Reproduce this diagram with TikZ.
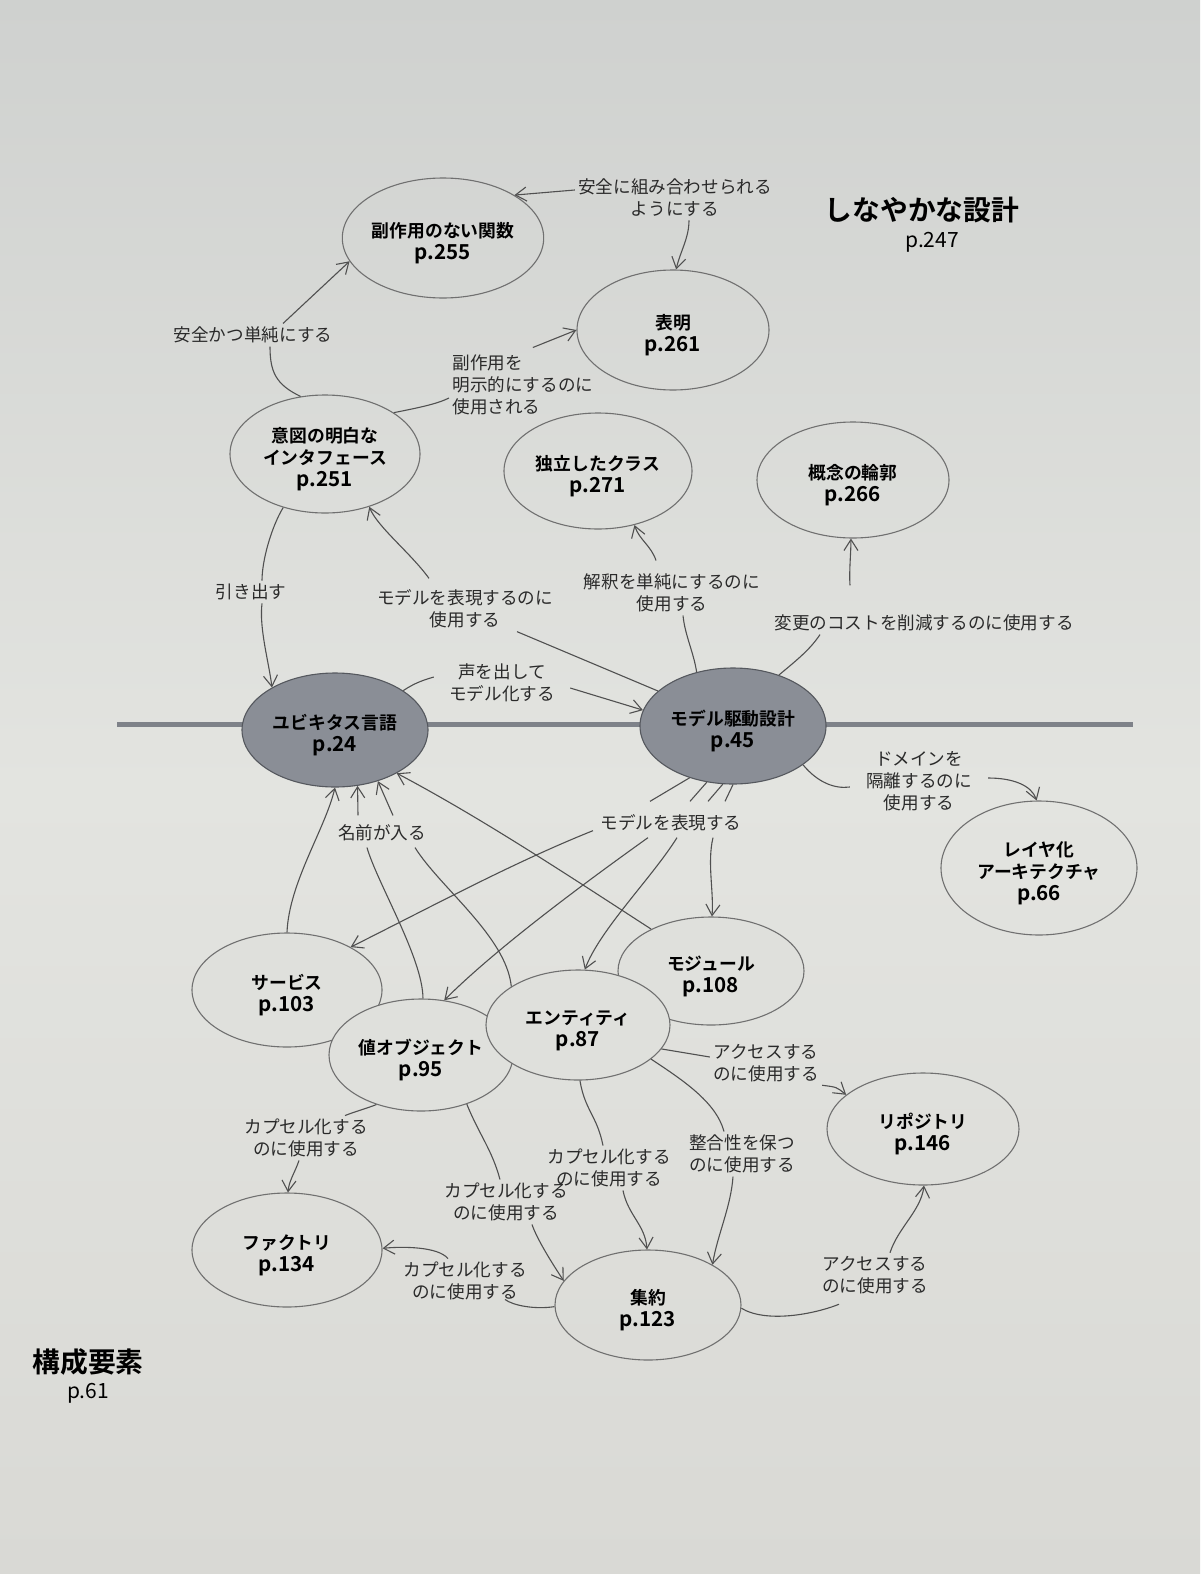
\documentclass[tikz,border=0pt]{standalone}
\usepackage{fontspec}
\setmainfont{Noto Sans CJK JP}[BoldFont={Noto Sans CJK JP Bold}]
\usetikzlibrary{arrows.meta,shapes.geometric}
\definecolor{bgmid}{HTML}{E3E4E0}
\definecolor{bgtop}{HTML}{CFD1CF}
\definecolor{bgbot}{HTML}{D9D9D5}
\definecolor{bgfill}{HTML}{DFE0DC}
\definecolor{ellc}{HTML}{707070}
\definecolor{darkfill}{HTML}{8A8E96}
\definecolor{darkline}{HTML}{55585E}
\definecolor{barc}{HTML}{7E8289}
\definecolor{linec}{HTML}{505050}
\definecolor{txtc}{HTML}{2A2A2A}
\newcommand\lblfont{\fontsize{8.8}{11}\selectfont}
\newcommand\ttlfont{\fontsize{8.9}{11}\selectfont\bfseries}
\newcommand\pgnum{\fontsize{10.3}{11}\selectfont\bfseries}
\newcommand\tpstrut{\rule{0pt}{12.5pt}}
\begin{document}
\begin{tikzpicture}[x=0.5pt,y=-0.5pt,
 ell/.style 2 args={ellipse, draw=ellc, line width=0.55pt, inner sep=0pt, minimum width=#1pt, minimum height=#2pt, align=center, font=\ttlfont, text=black},
 dark/.style={fill=darkfill, draw=darkline},
 lbl/.style={font=\lblfont, align=center, inner sep=1.5pt, text=txtc},
 con/.style={draw=linec, line width=0.55pt},
 arr/.style={con, -{Straight Barb[length=5.5pt,width=7pt]}}]
\shade[top color=bgtop, bottom color=bgbot, middle color=bgmid] (0,0) rectangle (1200,1574);
\useasboundingbox (0,0) rectangle (1200,1574);

% horizontal bar
\coordinate (barL) at (117,724);
\coordinate (barR) at (1133,724);
\draw[barc, line width=2.5pt] (barL) -- (barR);

% ellipses
\node[ell={96}{60}] (fn) at (443,238) {\tpstrut 副作用のない関数\\{\pgnum p.255}};
\node[ell={96}{60}] (asrt) at (673,330) {\tpstrut 表明\\{\pgnum p.261}};
\node[ell={95}{59}] (intf) at (325,454) {\tpstrut 意図の明白な\\インタフェース\\{\pgnum p.251}};
\node[ell={94}{58}] (cls) at (598,471) {\tpstrut 独立したクラス\\{\pgnum p.271}};
\node[ell={96}{58}] (cont) at (853,480) {\tpstrut 概念の輪郭\\{\pgnum p.266}};
\node[ell={93}{57},dark] (ul) at (335,730) {\tpstrut ユビキタス言語\\{\pgnum p.24}};
\node[ell={93}{58},dark] (mdd) at (733,726) {\tpstrut モデル駆動設計\\{\pgnum p.45}};
\node[ell={98}{67}] (layer) at (1039,868) {\tpstrut レイヤ化\\アーキテクチャ\\{\pgnum p.66}};
\node[ell={95}{57},fill=bgfill] (svc) at (287,990) {\tpstrut サービス\\{\pgnum p.103}};
\node[ell={93}{54},fill=bgfill] (mod) at (711,971) {\tpstrut モジュール\\{\pgnum p.108}};
\node[ell={92}{56},fill=bgfill] (vo) at (421,1055) {\tpstrut 値オブジェクト\\{\pgnum p.95}};
\node[ell={92}{55},fill=bgfill] (ent) at (578,1025) {\tpstrut エンティティ\\{\pgnum p.87}};
\node[ell={96}{56}] (repo) at (923,1129) {\tpstrut リポジトリ\\{\pgnum p.146}};
\node[ell={95}{57}] (fac) at (287,1250) {\tpstrut ファクトリ\\{\pgnum p.134}};
\node[ell={93}{55}] (agg) at (648,1305) {\tpstrut 集約\\{\pgnum p.123}};

% section titles
\node[font=\fontsize{13.9}{16}\selectfont\bfseries] (t1) at (922,210) {しなやかな設計};
\node[font=\fontsize{10.5}{12}\selectfont] (t1p) at (932,242) {p.247};
\node[font=\fontsize{13.9}{16}\selectfont\bfseries] (t2) at (88,1362) {構成要素};
\node[font=\fontsize{10.5}{12}\selectfont] (t2p) at (88,1393) {p.61};

% labels
\node[lbl] (lSafeCompose) at (675,198) {安全に組み合わせられる\\ようにする};
\node[lbl] (lSafeSimple) at (253,335) {安全かつ単純にする};
\node[lbl, align=left, anchor=west] (lSideEff) at (449,385) {副作用を\\明示的にするのに\\使用される};
\node[lbl] (lDraw) at (251,592) {引き出す};
\node[lbl] (lExpr1) at (465,609) {モデルを表現するのに\\使用する};
\node[lbl] (lInterp) at (672,593) {解釈を単純にするのに\\使用する};
\node[lbl] (lCost) at (924,623) {変更のコストを削減するのに使用する};
\node[lbl] (lVoice) at (502,683) {声を出して\\モデル化する};
\node[lbl] (lIsolate) at (919,781) {ドメインを\\隔離するのに\\使用する};
\node[lbl] (lExpr2) at (671,823) {モデルを表現する};
\node[lbl] (lName) at (382,833) {名前が入る};
\node[lbl] (lEnc1) at (306,1138) {カプセル化する\\のに使用する};
\node[lbl] (lEnc2) at (506,1202) {カプセル化する\\のに使用する};
\node[lbl] (lEnc3) at (609,1168) {カプセル化する\\のに使用する};
\node[lbl] (lConsist) at (742,1154) {整合性を保つ\\のに使用する};
\node[lbl] (lAccess1) at (766,1063) {アクセスする\\のに使用する};
\node[lbl] (lEnc4) at (465,1281) {カプセル化する\\のに使用する};
\node[lbl] (lAccess2) at (875,1275) {アクセスする\\のに使用する};

% connectors - supple design
\draw[arr] ([yshift=4pt]lSafeCompose.west) -- (fn.31);
\draw[arr] ([xshift=7pt]lSafeCompose.south) .. controls +(0,18) and +(4,-18) .. (asrt.87);
\draw[con] (intf.113) .. controls +(-25,-12) and +(0,25) .. ([xshift=8.5pt]lSafeSimple.south);
\draw[arr] ([xshift=15pt]lSafeSimple.north) -- (fn.194);
\draw[con] (intf.31) .. controls +(25,-5) and +(-12,6) .. ([yshift=-6.5pt]lSideEff.west);
\draw[arr] ([xshift=5pt,yshift=2pt]lSideEff.north) -- (asrt.180);
\draw[con] (intf.232) .. controls +(-12,20) and +(0,-20) .. ([xshift=5.5pt]lDraw.north);
\draw[arr] ([xshift=5.5pt]lDraw.south) .. controls +(-3,25) and +(-3,-25) .. (ul.146);
\draw[con] (mdd.155) -- ([xshift=26pt]lExpr1.south);
\draw[arr] ([xshift=-18pt,yshift=4pt]lExpr1.north) .. controls +(-18,-25) and +(8,20) .. (intf.310);
\draw[con] (mdd.124) .. controls +(-3,-20) and +(2,20) .. ([xshift=5.5pt]lInterp.south);
\draw[arr] ([xshift=-8pt,yshift=5pt]lInterp.north) .. controls +(-5,-15) and +(5,15) .. (cls.304);
\draw[con] (mdd.48) .. controls +(18,-15) and +(-10,15) .. ([xshift=-52pt]lCost.south);
\draw[arr] ([xshift=-37pt,yshift=13pt]lCost.north) .. controls +(-1,-15) and +(0,15) .. (cont.268);
\draw[con] (ul.30) .. controls +(12,-8) and +(-10,3) .. ([xshift=-6pt,yshift=3pt]lVoice.west);
\draw[arr] ([xshift=6pt,yshift=-2.5pt]lVoice.east) -- (mdd.170);
\draw[con] (mdd.331) .. controls +(15,18) and +(-15,2) .. ([xshift=-6.5pt,yshift=-3pt]lIsolate.west);
\draw[arr] ([xshift=6.5pt,yshift=1.5pt]lIsolate.east) .. controls +(25,0) and +(-5,-15) .. (layer.92);

% model-driven design -> building blocks
\draw[con] (mdd.230) -- ([xshift=-10.5pt,yshift=5pt]lExpr2.north);
\draw[con] (mdd.245) -- ([xshift=9.5pt,yshift=5pt]lExpr2.north);
\draw[con] (mdd.260) -- ([xshift=18.5pt,yshift=5pt]lExpr2.north);
\draw[con] (mdd.270) -- ([xshift=27pt,yshift=5pt]lExpr2.north);
\draw[arr] ([xshift=-39pt,yshift=2pt]lExpr2.south) .. controls +(-80,32) and +(80,-40) .. (svc.34);
\draw[arr] ([xshift=-11.5pt,yshift=-1.5pt]lExpr2.south) .. controls +(-70,50) and +(50,-50) .. (vo.67);
\draw[arr] ([xshift=3pt,yshift=-1.5pt]lExpr2.south) .. controls +(-25,40) and +(15,-40) .. (ent.83);
\draw[arr] ([xshift=21pt,yshift=-1.5pt]lExpr2.south) .. controls +(-6,25) and +(2,-25) .. (mod.89);

% names enter ubiquitous language
\draw[arr] (svc.90) .. controls +(2,-50) and +(-10,42) .. (ul.270);
\draw[con] (vo.88) .. controls +(0,-40) and +(10,35) .. ([xshift=-7.5pt,yshift=-1.5pt]lName.south);
\draw[arr] ([xshift=-12pt,yshift=3pt]lName.north) -- (ul.292);
\draw[con] (ent.150) .. controls +(-5,-50) and +(25,40) .. ([xshift=16.5pt,yshift=-1.5pt]lName.south);
\draw[arr] ([xshift=5.5pt,yshift=3pt]lName.north) -- (ul.310);
\draw[arr] (mod.145) .. controls +(-85,-55) and +(85,45) .. (ul.325);

% building blocks
\draw[con] (vo.228) .. controls +(-10,4) and +(10,-4) .. ([xshift=19.5pt]lEnc1.north);
\draw[arr] ([xshift=-3.5pt]lEnc1.south) .. controls +(-4,12) and +(1,-12) .. (fac.89);
\draw[con] (vo.313) .. controls +(12,30) and +(-8,-30) .. ([xshift=-3pt]lEnc2.north);
\draw[arr] ([xshift=13pt]lEnc2.south) .. controls +(5,15) and +(-10,-15) .. (agg.164);
\draw[con] (ent.272) .. controls +(5,30) and +(-6,-30) .. ([xshift=-3pt]lEnc3.north);
\draw[arr] ([xshift=7pt]lEnc3.south) .. controls +(5,25) and +(-2,-25) .. (agg.91);
\draw[con] (ent.335) .. controls +(30,20) and +(-8,-30) .. ([xshift=-9pt]lConsist.north);
\draw[arr] ([xshift=-4.5pt]lConsist.south) .. controls +(-2,30) and +(5,-30) .. (agg.32);
\draw[con] (ent.344) -- ([yshift=3pt]lAccess1.west);
\draw[arr] (lAccess1.south east) .. controls +(15,2) and +(-10,-8) .. (repo.156);
\draw[con] (agg.181) .. controls +(-20,3) and +(8,6) .. ([xshift=20pt,yshift=2pt]lEnc4.south);
\draw[arr] ([xshift=-8.5pt]lEnc4.north) .. controls +(-10,-12) and +(20,-2) .. (fac.1);
\draw[con] (agg.358) .. controls +(25,15) and +(-25,10) .. ([xshift=-18pt,yshift=-3.5pt]lAccess2.south);
\draw[arr] ([xshift=7.5pt]lAccess2.north) .. controls +(8,-25) and +(-3,25) .. (repo.271);
\end{tikzpicture}
\end{document}
